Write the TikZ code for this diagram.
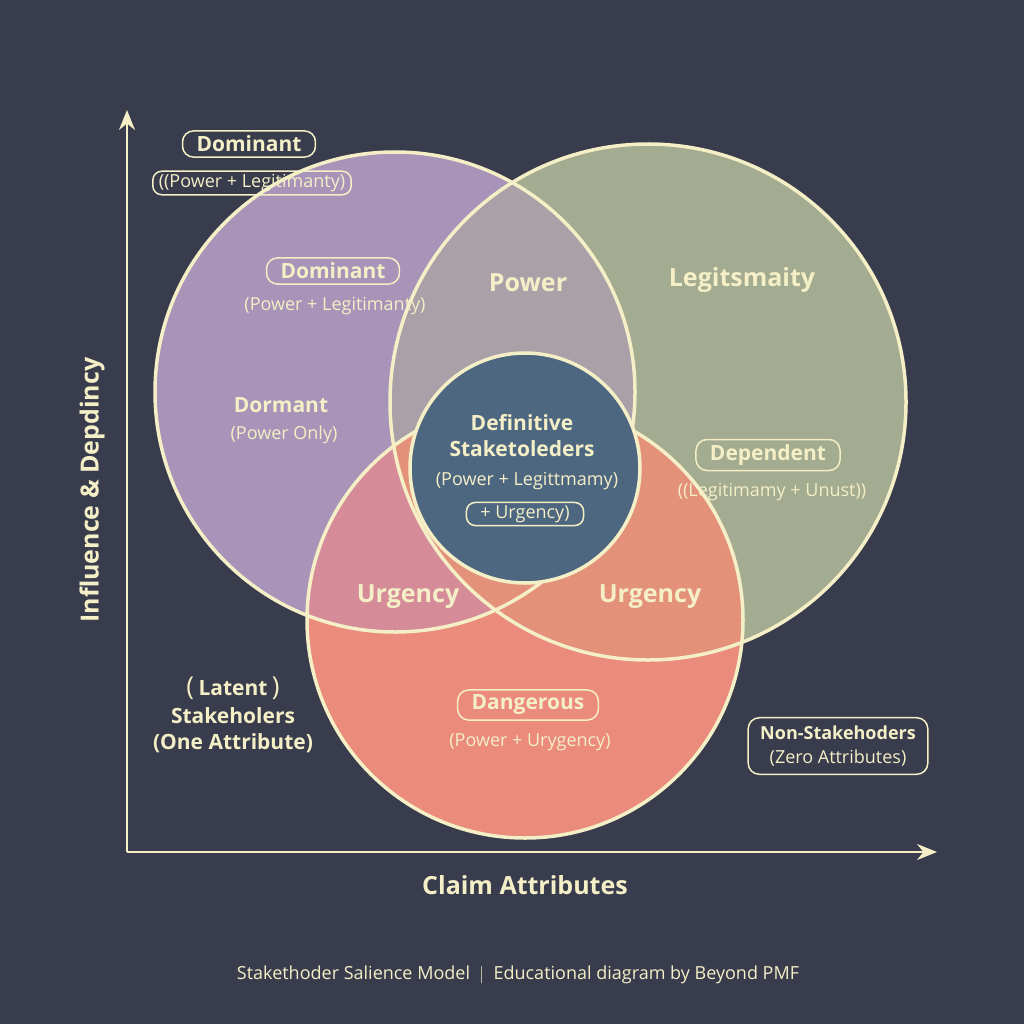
\documentclass[tikz,border=0pt]{standalone}
\usepackage{fontspec}
\setmainfont{Open Sans}
\usetikzlibrary{arrows.meta}
\definecolor{bg}{HTML}{383C4D}
\definecolor{cream}{HTML}{F4EFC6}
\definecolor{cpur}{HTML}{A794B8}
\definecolor{cgrn}{HTML}{A3AB90}
\definecolor{cred}{HTML}{EA8B7B}
\definecolor{cpg}{HTML}{A9A0A8}
\definecolor{cpr}{HTML}{D68C98}
\definecolor{cgr}{HTML}{E4917A}
\definecolor{cblu}{HTML}{4E6781}
\begin{document}
\begin{tikzpicture}[x=1pt,y=-1pt,
  ring/.style={draw=cream,line width=3.5pt},
  big/.style={text=cream,font=\bfseries\fontsize{25}{30}\selectfont},
  mid/.style={text=cream,font=\bfseries\fontsize{21}{26}\selectfont,align=center},
  small/.style={text=cream,font=\fontsize{18}{22}\selectfont,align=center},
  box/.style={draw=cream,line width=1.5pt,rounded corners=11pt,inner xsep=14pt,inner ysep=5pt},
  axis/.style={draw=cream,line width=2.5pt,-{Stealth[length=20pt,width=16pt]}}]
\fill[bg] (0,0) rectangle (1024,1024);
\useasboundingbox (0,0) rectangle (1024,1024);
\def\P{(395,392) circle (240)}
\def\G{(648,402) circle (258)}
\def\R{(525,620) circle (218)}
\fill[cpur] \P;
\fill[cgrn] \G;
\fill[cred] \R;
\begin{scope}\clip \P; \fill[cpg] \G; \end{scope}
\begin{scope}\clip \P; \fill[cpr] \R; \end{scope}
\begin{scope}\clip \G; \fill[cgr] \R; \end{scope}
\draw[ring] \P;
\draw[ring] \G;
\draw[ring] \R;
\fill[cblu] (525,468) circle (115);
\draw[ring] (525,468) circle (115);
% axes
\coordinate (o) at (127,852);
\coordinate (ya) at (127,110);
\coordinate (xa) at (937,852);
\draw[axis] (o) -- (ya);
\draw[axis] (o) -- (xa);
\node[big,rotate=90] (yl) at (92,490) {Influence \& Depdincy};
\node[big] (xl) at (525,885) {Claim Attributes};
% labels
\node[mid,box] (d1) at (249,144) {Dominant};
\node[small,box,rounded corners=9pt,inner ysep=3pt,inner xsep=6pt] (d1s) at (252,183) {((Power + Legitimanty)};
\node[mid,box] (d2) at (333,271) {Dominant};
\node[small] (d2s) at (335,306) {(Power + Legitimanty)};
\node[big] (pw) at (528,283) {Power};
\node[big] (lg) at (742,280) {Legitsmaity};
\node[mid] (dm) at (281,405) {Dormant};
\node[small] (dms) at (284,435) {(Power Only)};
\node[mid] (df) at (522,436) {Definitive\\Staketoleders};
\node[small] (dfs) at (527,481) {(Power + Legittmamy)};
\node[small,box,rounded corners=9pt,inner ysep=3pt] (dfu) at (525,514) {+ Urgency)};
\node[mid,box] (dp) at (768,455) {Dependent};
\node[small] (dps) at (772,492) {((Legitimamy + Unust))};
\node[big] (u1) at (408,597) {Urgency};
\node[big] (u2) at (650,597) {Urgency};
\node[mid,box] (dg) at (528,705) {Dangerous};
\node[small] (dgs) at (530,742) {(Power + Urygency)};
\node[mid] (lt) at (233,688) {{\fontsize{26}{26}\selectfont\mdseries(\,}Latent{\fontsize{26}{26}\selectfont\mdseries\,)}};
\node[mid] (lt2) at (233,716) {Stakeholers};
\node[mid] (lt3) at (233,743) {(One Attribute)};
\node[box,text=cream,align=center,font=\bfseries\fontsize{18}{24}\selectfont,inner ysep=8pt,inner xsep=12pt] (ns) at (838,746) {Non-Stakehoders\\{\mdseries (Zero Attributes)}};
\node[small,font=\fontsize{18}{22}\selectfont] (ft) at (518,975) {Stakethoder Salience Model \ $|$\ \ Educational diagram by Beyond PMF};
\end{tikzpicture}
\end{document}
